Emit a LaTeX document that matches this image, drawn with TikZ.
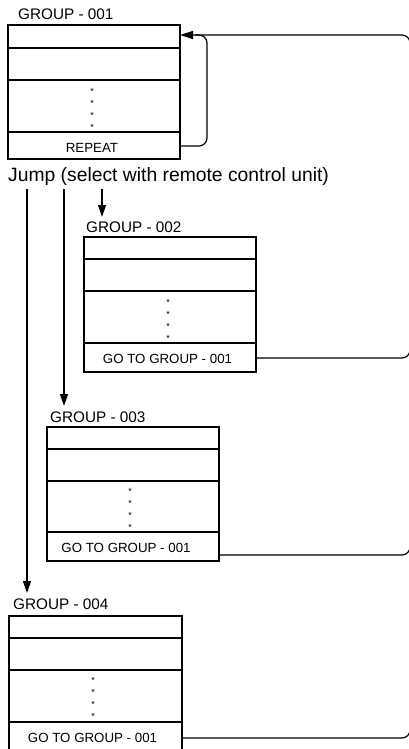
\documentclass[tikz,border=0pt]{standalone}
\usepackage{fontspec}
\setmainfont{Liberation Sans}
\usetikzlibrary{arrows.meta}
\begin{document}
\begin{tikzpicture}[x=1pt,y=-1pt,
  box/.style={draw,line width=1.3pt,rectangle,inner sep=0pt,outer sep=0pt,anchor=north west},
  divider/.style={line width=1.3pt},
  conn/.style={line width=1.2pt,rounded corners=8pt},
  arr/.style={line width=1.2pt,-{Triangle[length=12pt,width=8pt]}},
  glabel/.style={anchor=base west,inner sep=0pt,font=\fontsize{15.3}{15.3}\selectfont},
  rowtext/.style={anchor=base,inner sep=0pt,font=\fontsize{13.3}{13.3}\selectfont},
  star/.style={inner sep=0pt,font=\fontsize{9}{9}\selectfont},
  jumptext/.style={anchor=base west,inner sep=0pt,font=\fontsize{19.3}{19.3}\selectfont}]
\useasboundingbox (0,0) rectangle (408,749);

% ---------- GROUP 001 ----------
\node[glabel] (l1) at (18,20) {GROUP - 001};
\node[box,minimum width=172pt,minimum height=134pt] (g1) at (8,25) {};
\foreach \yy in {48,80,132} \draw[divider] (8,\yy) -- (180,\yy);
\foreach \yy in {91,103,115,127} \node[star] at (92,\yy) {*};
\node[rowtext] (t1) at (92,153) {REPEAT};

% ---------- jump text ----------
\node[jumptext] (jump) at (8,181) {Jump (select with remote control unit)};

% ---------- GROUP 002 ----------
\node[glabel] (l2) at (86,232) {GROUP - 002};
\node[box,minimum width=172pt,minimum height=135pt] (g2) at (84,237) {};
\foreach \yy in {259,291,343} \draw[divider] (84,\yy) -- (256,\yy);
\foreach \yy in {302,314,326,338} \node[star] at (168,\yy) {*};
\node[rowtext] (t2) at (167.5,363) {GO TO GROUP - 001};

% ---------- GROUP 003 ----------
\node[glabel] (l3) at (50,422) {GROUP - 003};
\node[box,minimum width=172pt,minimum height=134pt] (g3) at (47,427) {};
\foreach \yy in {449,481,532} \draw[divider] (47,\yy) -- (219,\yy);
\foreach \yy in {491,503,515,527} \node[star] at (130,\yy) {*};
\node[rowtext] (t3) at (126,552) {GO TO GROUP - 001};

% ---------- GROUP 004 ----------
\node[glabel] (l4) at (13,609) {GROUP - 004};
\node[box,minimum width=173pt,minimum height=136pt] (g4) at (9,616) {};
\foreach \yy in {638,670,722} \draw[divider] (9,\yy) -- (182,\yy);
\foreach \yy in {680,692,704,716} \node[star] at (93,\yy) {*};
\node[rowtext] (t4) at (92.5,742) {GO TO GROUP - 001};

% ---------- jump arrows ----------
\coordinate (s1) at (27,189);
\coordinate (s2) at (64,189);
\coordinate (s3) at (102,189);
\coordinate (e2) at (102,217);
\coordinate (e3) at (64,406);
\coordinate (e4) at (27,593);
\draw[arr] (s3) -- (e2);
\draw[arr] (s2) -- (e3);
\draw[arr] (s1) -- (e4);

% ---------- return connectors ----------
\coordinate (rtop) at (410,35);
\draw[conn] (g2.east |- 0,358) -- (410,358) -- (410,330);
\draw[conn] (g3.east |- 0,555) -- (410,555) -- (410,525);
\draw[conn] (g1.east |- 0,146) -- (207,146) -- (207,35) -- (195,35);
\draw[conn,-{Triangle[length=13pt,width=8pt]}] (g4.east |- 0,738) -- (410,738) -- (rtop) -- (g1.east |- rtop);
\end{tikzpicture}
\end{document}
